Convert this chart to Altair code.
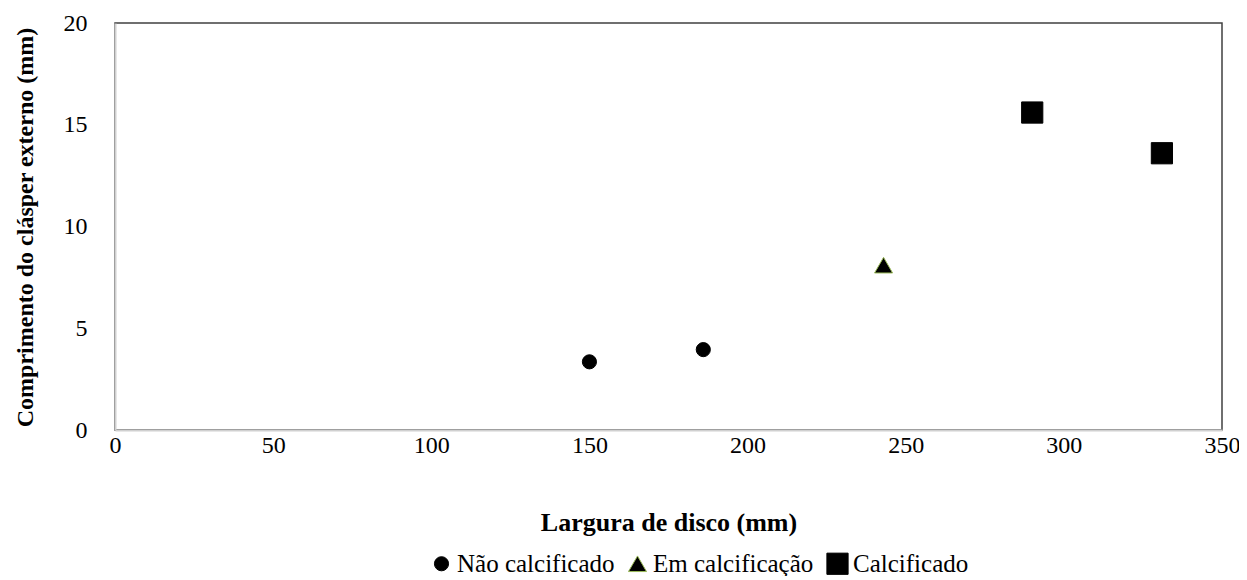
import altair as alt
import pandas as pd

categories = ["Não calcificado", "Não calcificado", "Em calcificação", "Calcificado", "Calcificado"]
largura = [150, 186, 243, 290, 331]
comprimento = [3.35, 3.95, 8.1, 15.6, 13.6]
legend_order = ["Não calcificado", "Em calcificação", "Calcificado"]
x_ticks = [0, 50, 100, 150, 200, 250, 300, 350]
y_ticks = [0, 5, 10, 15, 20]

df = pd.DataFrame({"Estágio": categories, "Largura": largura, "Comprimento": comprimento})

FONT = "'Liberation Serif', 'Times New Roman', Tinos, 'DejaVu Serif', serif"

leg = dict(title=None, orient="none", legendX=314, legendY=528,
           direction="horizontal", columns=3, labelFont=FONT, labelFontSize=25,
           labelColor="#000000", labelLimit=400, symbolSize=130, symbolStrokeWidth=1,
           columnPadding=10, labelOffset=3)

chart = alt.Chart(df).mark_point(filled=True, opacity=1, strokeWidth=1).encode(
    x=alt.X("Largura:Q", scale=alt.Scale(domain=[0, 350], nice=False, zero=True),
            axis=alt.Axis(values=x_ticks, title="Largura de disco (mm)", titleY=92,
                          titleBaseline="middle", titleFontSize=26, grid=False, ticks=False,
                          labelFlush=False, labelPadding=3, labelFont=FONT,
                          domainColor="#d0d0d0", domainWidth=2)),
    y=alt.Y("Comprimento:Q", scale=alt.Scale(domain=[0, 20], nice=False),
            axis=alt.Axis(values=y_ticks, title="Comprimento do clásper externo (mm)",
                          titleX=-90, titleY=204, titleAngle=-90, titleBaseline="middle",
                          titleFontSize=24, grid=False, ticks=False, labelPadding=28,
                          labelFlush=False, labelFont=FONT,
                          domainColor="#d0d0d0", domainWidth=2)),
    shape=alt.Shape("Estágio:N", sort=legend_order,
                    scale=alt.Scale(domain=legend_order, range=["circle", "triangle-up", "square"]),
                    legend=alt.Legend(**leg)),
    color=alt.Color("Estágio:N", sort=legend_order,
                    scale=alt.Scale(domain=legend_order, range=["#000000", "#000000", "#000000"]),
                    legend=alt.Legend(**leg)),
    stroke=alt.Stroke("Estágio:N", sort=legend_order,
                      scale=alt.Scale(domain=legend_order, range=["#000000", "#9BBB59", "#000000"]),
                      legend=alt.Legend(**leg)),
    size=alt.Size("Estágio:N", sort=legend_order,
                  scale=alt.Scale(domain=legend_order, range=[200, 450, 250]),
                  legend=None),
).properties(
    width=1107,
    height=407,
    autosize=alt.AutoSizeParams(type="none"),
    padding={"left": 107, "top": 15, "right": 17, "bottom": 146},
).configure_view(
    stroke="#404040", strokeWidth=1.5,
).configure_axis(
    labelFont=FONT, labelFontSize=24, labelColor="#000000",
    titleFont=FONT, titleFontWeight="bold", titleColor="#000000",
).configure_legend(
    labelFont=FONT, labelFontSize=25, labelColor="#000000", labelLimit=400,
)

chart.save("out.html", embed_options={"renderer": "svg", "actions": False})
